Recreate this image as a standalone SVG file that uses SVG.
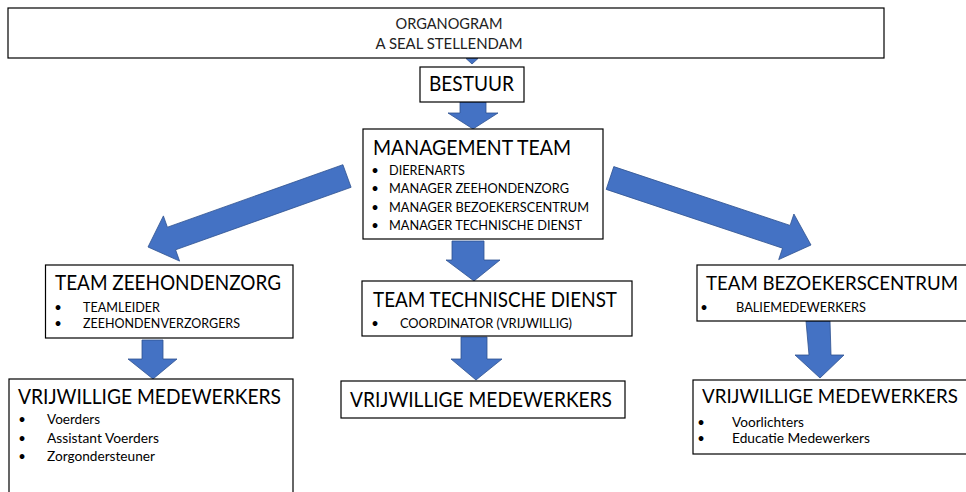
<svg xmlns="http://www.w3.org/2000/svg" width="966" height="492" viewBox="0 0 966 492">
<style>
.box{fill:#fff;stroke:#000;stroke-width:1.2}
.arr{fill:#4472C4;stroke:#2F528F;stroke-width:0.8}
text{font-family:Lato,"Open Sans","Liberation Sans",sans-serif;fill:#000}
.h{font-size:20.5px}
.hr{font-size:19px}
.s{font-size:13px}
.t{font-size:15px;fill:#222}
.b{font-size:13px;text-anchor:middle}
</style>
<rect width="966" height="492" fill="#fff"/>
<g id="connectors">
<polygon class="arr" points="466,58.5 478,58.5 472,64"/>
<polygon class="arr" points="460,102 486,102 486,113 498,113 473,129 448,113 460,113"/>
<polygon class="arr" points="452,241 484,241 484,260 500,260 474,281 446,260 452,260"/>
<polygon class="arr" points="461,337 487,337 487,359 502,359 476,380 451,359 461,359"/>
<polygon class="arr" points="142,340 163,340 163,359 177,359 153,379 128,359 142,359"/>
<polygon class="arr" points="806,321 830,321 831,355 844,355 820,378 795,355 809,355"/>
<polygon class="arr" points="342.9,164.7 351.1,187.3 175.6,249.8 179.6,261.1 148,247 163.4,215.9 167.4,227.2"/>
<polygon class="arr" points="613.8,166.6 790.1,225.4 793.9,214 811,245 778.7,259.6 782.5,248.2 606.2,189.4"/>
</g>
<g id="title">
<rect class="box" x="8" y="8" width="876" height="50"/>
<text class="t" x="449" y="29" text-anchor="middle" textLength="107" lengthAdjust="spacingAndGlyphs">ORGANOGRAM</text>
<text class="t" x="449" y="49" text-anchor="middle" textLength="147" lengthAdjust="spacingAndGlyphs">A SEAL STELLENDAM</text>
</g>
<g id="bestuur">
<rect class="box" x="420" y="67" width="104" height="35"/>
<text class="h" x="429" y="91" textLength="85" lengthAdjust="spacingAndGlyphs">BESTUUR</text>
</g>
<g id="management">
<rect class="box" x="363" y="129" width="240" height="110"/>
<text class="h" x="373" y="155" textLength="198" lengthAdjust="spacingAndGlyphs">MANAGEMENT TEAM</text>
<text class="b" x="375" y="175">•</text>
<text class="s" x="389" y="175" textLength="76" lengthAdjust="spacingAndGlyphs">DIERENARTS</text>
<text class="b" x="375" y="193">•</text>
<text class="s" x="389" y="193" textLength="180" lengthAdjust="spacingAndGlyphs">MANAGER ZEEHONDENZORG</text>
<text class="b" x="375" y="211.5">•</text>
<text class="s" x="389" y="211.5" textLength="200" lengthAdjust="spacingAndGlyphs">MANAGER BEZOEKERSCENTRUM</text>
<text class="b" x="375" y="230">•</text>
<text class="s" x="389" y="230" textLength="193" lengthAdjust="spacingAndGlyphs">MANAGER TECHNISCHE DIENST</text>
</g>
<g id="team-zeehondenzorg">
<rect class="box" x="45.5" y="265" width="247.5" height="73"/>
<text class="h" x="55" y="290" textLength="226" lengthAdjust="spacingAndGlyphs">TEAM ZEEHONDENZORG</text>
<text class="b" x="58" y="312">•</text>
<text class="s" x="83" y="312" textLength="77" lengthAdjust="spacingAndGlyphs">TEAMLEIDER</text>
<text class="b" x="58" y="328">•</text>
<text class="s" x="83" y="328" textLength="157" lengthAdjust="spacingAndGlyphs">ZEEHONDENVERZORGERS</text>
</g>
<g id="team-technische-dienst">
<rect class="box" x="362" y="281" width="270" height="55"/>
<text class="h" x="373" y="307" textLength="244" lengthAdjust="spacingAndGlyphs">TEAM TECHNISCHE DIENST</text>
<text class="b" x="375" y="328">•</text>
<text class="s" x="400" y="328" textLength="172" lengthAdjust="spacingAndGlyphs">COORDINATOR (VRIJWILLIG)</text>
</g>
<g id="team-bezoekerscentrum">
<rect class="box" x="697" y="265" width="280" height="56"/>
<text class="hr" x="706" y="290" textLength="252" lengthAdjust="spacingAndGlyphs">TEAM BEZOEKERSCENTRUM</text>
<text class="b" x="704" y="312">•</text>
<text class="s" x="736" y="312" textLength="130" lengthAdjust="spacingAndGlyphs">BALIEMEDEWERKERS</text>
</g>
<g id="vrijwilligers-zeehondenzorg">
<rect class="box" x="9" y="379" width="284" height="125"/>
<text class="h" x="18" y="404" textLength="263" lengthAdjust="spacingAndGlyphs">VRIJWILLIGE MEDEWERKERS</text>
<text class="b" x="22" y="424">•</text>
<text class="s" x="47" y="424" textLength="53" lengthAdjust="spacingAndGlyphs">Voerders</text>
<text class="b" x="22" y="443">•</text>
<text class="s" x="47" y="443" textLength="112" lengthAdjust="spacingAndGlyphs">Assistant Voerders</text>
<text class="b" x="22" y="461">•</text>
<text class="s" x="47" y="461" textLength="108" lengthAdjust="spacingAndGlyphs">Zorgondersteuner</text>
</g>
<g id="vrijwilligers-technische-dienst">
<rect class="box" x="341" y="381" width="284" height="37"/>
<text class="h" x="350" y="407" textLength="262" lengthAdjust="spacingAndGlyphs">VRIJWILLIGE MEDEWERKERS</text>
</g>
<g id="vrijwilligers-bezoekerscentrum">
<rect class="box" x="693" y="380" width="285" height="74"/>
<text class="hr" x="702" y="403" textLength="256" lengthAdjust="spacingAndGlyphs">VRIJWILLIGE MEDEWERKERS</text>
<text class="b" x="701" y="427">•</text>
<text class="s" x="732" y="427" textLength="72" lengthAdjust="spacingAndGlyphs">Voorlichters</text>
<text class="b" x="701" y="443">•</text>
<text class="s" x="732" y="443" textLength="138" lengthAdjust="spacingAndGlyphs">Educatie Medewerkers</text>
</g>
</svg>
